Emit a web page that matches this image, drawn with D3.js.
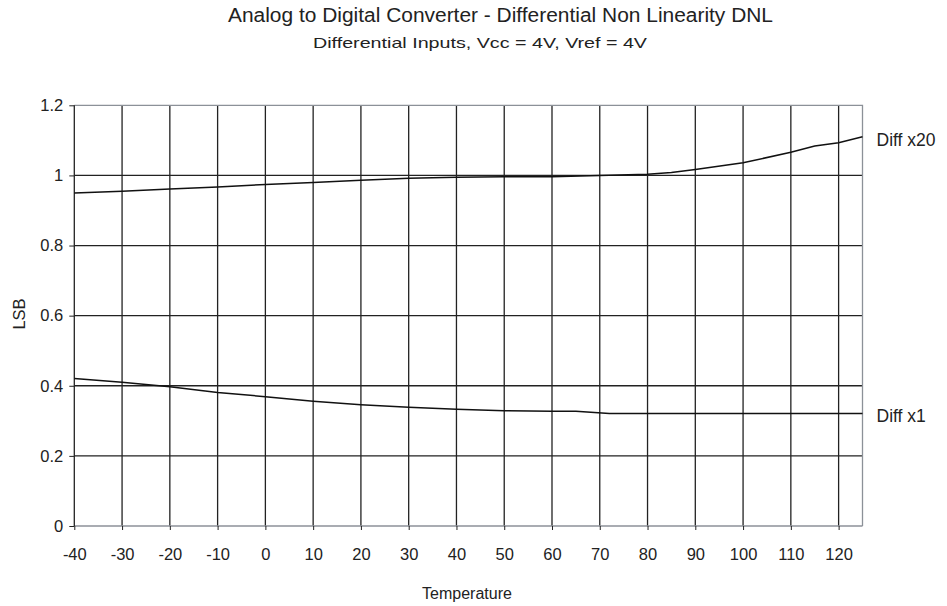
<!DOCTYPE html>
<html>
<head>
<meta charset="utf-8">
<script src="https://cdn.jsdelivr.net/npm/d3@7"></script>
<style>
  body { margin: 0; background: #fff; }
  text { font-family: "Liberation Sans", Arial, sans-serif; fill: #222; }
</style>
</head>
<body>
<div id="chart"></div>
<script>
// temperatures (x) and readings for each curve
var tempsX20 = [-40, -30, -20, -10, 0, 10, 20, 30, 40, 50, 60, 70, 80, 85, 90, 100, 110, 115, 120, 125];
var diffX20 = [0.950, 0.955, 0.961, 0.967, 0.974, 0.980, 0.986, 0.992, 0.995, 0.996, 0.996, 1.000, 1.003, 1.008, 1.017, 1.036, 1.066, 1.084, 1.093, 1.110];

var tempsX1 = [-40, -30, -20, -10, 0, 10, 20, 30, 40, 50, 60, 65, 72, 85, 125];
var diffX1 = [0.421, 0.410, 0.397, 0.381, 0.369, 0.356, 0.346, 0.339, 0.333, 0.329, 0.327, 0.327, 0.321, 0.321, 0.321];

var xTicks = [-40, -30, -20, -10, 0, 10, 20, 30, 40, 50, 60, 70, 80, 90, 100, 110, 120];
var yTicks = [0, 0.2, 0.4, 0.6, 0.8, 1, 1.2];

var seriesNames = ["Diff x20", "Diff x1"];

var svgWidth = 947;
var svgHeight = 606;
var margin = { top: 105.3, right: 84.5, bottom: 80, left: 74.3 };
var width = svgWidth - margin.left - margin.right;
var height = svgHeight - margin.top - margin.bottom;

var svg = d3.select("#chart")
  .append("svg")
  .attr("width", svgWidth)
  .attr("height", svgHeight);

var chart = svg.append("g")
  .attr("transform", "translate(" + margin.left + "," + margin.top + ")");

var x = d3.scaleLinear().domain([-40, 125]).range([0, width]);
var y = d3.scaleLinear().domain([0, 1.2]).range([height, 0]);

// grid
chart.selectAll(".vgrid")
  .data(xTicks.slice(1))
  .enter()
  .append("line")
  .attr("x1", function(d) { return x(d); })
  .attr("x2", function(d) { return x(d); })
  .attr("y1", 0)
  .attr("y2", height)
  .attr("stroke", "#222")
  .attr("stroke-width", 1.3);

chart.selectAll(".hgrid")
  .data(yTicks.slice(1, -1))
  .enter()
  .append("line")
  .attr("x1", 0)
  .attr("x2", width)
  .attr("y1", function(d) { return y(d); })
  .attr("y2", function(d) { return y(d); })
  .attr("stroke", "#222")
  .attr("stroke-width", 1.3);

// top and right border
chart.append("path")
  .attr("d", "M0,0H" + width + "V" + height)
  .attr("fill", "none")
  .attr("stroke", "#8c9198")
  .attr("stroke-width", 1.3);

// axes - plain hyphen for negatives like the original
var plain = function(d) { return String(d); };
var bottomAxis = d3.axisBottom(x).tickValues(xTicks).tickSize(4).tickPadding(18).tickFormat(plain);
var leftAxis = d3.axisLeft(y).tickValues(yTicks).tickSize(5).tickPadding(6).tickFormat(plain);

var gx = chart.append("g")
  .attr("transform", "translate(0," + height + ")")
  .call(bottomAxis);
gx.select(".domain").attr("d", "M0,0H" + width).attr("stroke", "#8c9198").attr("stroke-width", 1.3);
gx.selectAll(".tick line").attr("stroke", "#222");
gx.selectAll("text").style("font-size", "16.5px").attr("fill", "#222");

var gy = chart.append("g").call(leftAxis);
gy.select(".domain").attr("d", "M0," + height + "V0").attr("stroke", "#222").attr("stroke-width", 1.3);
gy.selectAll(".tick line").attr("stroke", "#222");
gy.selectAll("text").style("font-size", "16.5px").attr("fill", "#222");

// lines
var line = d3.line()
  .x(function(d) { return x(d[0]); })
  .y(function(d) { return y(d[1]); });

var data = [
  d3.zip(tempsX20, diffX20),
  d3.zip(tempsX1, diffX1)
];

chart.selectAll(".series")
  .data(data)
  .enter()
  .append("path")
  .attr("d", line)
  .attr("fill", "none")
  .attr("stroke", "#111")
  .attr("stroke-width", 1.5);

// series labels at the right end
chart.selectAll(".slabel")
  .data(data)
  .enter()
  .append("text")
  .attr("x", width + 14)
  .attr("y", function(d, i) { return y(d[d.length - 1][1]) + (i === 0 ? 3 : 2); })
  .attr("dy", "0.35em")
  .style("font-size", "17.5px")
  .text(function(d, i) { return seriesNames[i]; });

// axis titles
svg.append("text")
  .attr("transform", "translate(19,314) rotate(-90)")
  .attr("text-anchor", "middle")
  .attr("dy", "0.35em")
  .style("font-size", "16.5px")
  .text("LSB");

svg.append("text")
  .attr("x", 467)
  .attr("y", 593)
  .attr("text-anchor", "middle")
  .attr("dy", "0.35em")
  .style("font-size", "16px")
  .text("Temperature");

// titles
svg.append("text")
  .attr("x", 228)
  .attr("y", 22)
  .attr("textLength", 545)
  .attr("lengthAdjust", "spacingAndGlyphs")
  .style("font-size", "20px")
  .text("Analog to Digital Converter - Differential  Non Linearity DNL");

svg.append("text")
  .attr("x", 313)
  .attr("y", 48)
  .attr("textLength", 334)
  .attr("lengthAdjust", "spacingAndGlyphs")
  .style("font-size", "15px")
  .text("Differential Inputs, Vcc = 4V, Vref = 4V");
</script>
</body>
</html>
